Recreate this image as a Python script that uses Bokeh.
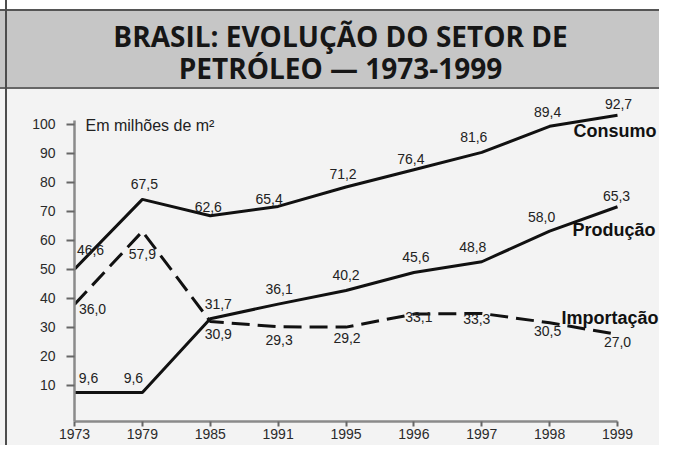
from bokeh.plotting import figure
from bokeh.models import Range1d, LinearAxis, FixedTicker, ColumnDataSource
from bokeh.embed import file_html
from bokeh.resources import INLINE
from bokeh.core.properties import value

# ---------------- data ----------------
years = ["1973", "1979", "1985", "1991", "1995", "1996", "1997", "1998", "1999"]
consumo = [46.6, 67.5, 62.6, 65.4, 71.2, 76.4, 81.6, 89.4, 92.7]
producao = [9.6, 9.6, 31.7, 36.1, 40.2, 45.6, 48.8, 58.0, 65.3]
importacao = [36.0, 57.9, 30.9, 29.3, 29.2, 33.1, 33.3, 30.5, 27.0]
y_tick_labels = [10, 20, 30, 40, 50, 60, 70, 80, 90, 100]
series_names = ["Consumo", "Produção", "Importação"]
title_lines = ["BRASIL: EVOLUÇÃO DO SETOR DE", "PETRÓLEO — 1973-1999"]
unit_label = "Em milhões de m²"

# ---------------- styles ----------------
W, H = 659, 445
LEFT, BOTTOM = 74, 24
PX_X, PX_Y = 67.875, 3.335          # pixels per data unit
Y0 = 0.9                            # data value at the frame's bottom edge
FONT = "Liberation Sans"
INK = "#111111"
# the reference's y-axis labels sit slightly off the data scale; calibration
AX_OFF, AX_SCALE = 3.0, 0.87

def fmt(v):
    return f"{v:.1f}".replace(".", ",")

x_end = (W - LEFT) / PX_X
y_end = Y0 + (H - BOTTOM) / PX_Y

p = figure(width=W, height=H, title=None,
           x_range=Range1d(0, x_end), y_range=Range1d(Y0, y_end),
           x_axis_type=None, y_axis_type=None, toolbar_location=None,
           output_backend="svg", min_border_left=LEFT, min_border_right=0,
           min_border_top=0, min_border_bottom=BOTTOM)
p.background_fill_alpha = 0
p.border_fill_alpha = 0
p.outline_line_color = None
p.styles = {
    "background": (
        "linear-gradient(to right, rgba(0,0,0,0) 5px, #4d4d4d 5px, #4d4d4d 7px, rgba(0,0,0,0) 7px), "
        "linear-gradient(to bottom, #ffffff 9px, #555555 9px, #555555 11px, #c6c6c6 11px, "
        "#c6c6c6 87px, #666666 87px, #666666 89px, #f3f3f3 89px)"
    )
}

# title (inside the frame, above the data)
p.text(x=[(340 - LEFT) / PX_X] * 2, y=[116.6, 107.0], text=title_lines,
       text_font=value("Open Sans"), text_font_style="bold",
       text_font_size="28px", text_color="#161616",
       text_align="center", text_baseline="middle")

xi = list(range(len(years)))

xaxis = LinearAxis(ticker=FixedTicker(ticks=xi),
                   major_label_overrides={i: y for i, y in zip(xi, years)},
                   bounds=(0, len(years) - 1))
ypos = [round(AX_OFF + AX_SCALE * v, 3) for v in y_tick_labels]
yaxis = LinearAxis(ticker=FixedTicker(ticks=ypos),
                   major_label_overrides={pp: str(v) for pp, v in zip(ypos, y_tick_labels)},
                   bounds=(Y0, ypos[-1] + 1.2))
for ax in (xaxis, yaxis):
    ax.axis_line_color = "#8a8a8a"
    ax.axis_line_width = 2.5
    ax.major_tick_line_color = "#666666"
    ax.major_tick_line_width = 2
    ax.major_tick_in = 0
    ax.minor_tick_out = 0
    ax.minor_tick_in = 0
    ax.major_label_text_font = FONT
    ax.major_label_text_font_size = "14px"
    ax.major_label_text_color = "#2a2a2a"
xaxis.major_tick_out = 5
xaxis.major_label_standoff = 2
yaxis.major_tick_out = 8
yaxis.major_label_standoff = 11
p.add_layout(xaxis, "below")
p.add_layout(yaxis, "left")

series = [consumo, producao, importacao]
dashes = ["solid", "solid", "18 8"]
label_offsets = [
    [(16, -19), (2, -15), (-2, -9), (-9, -7), (-3, -13), (-3, -11), (-8, -15), (-2, -14), (1, -11)],
    [(14, -14), (-9, -14), (8, -15), (1, -15), (0, -15), (2, -15), (-9, -15), (-8, -14), (-1, -11)],
    [(18, 5), (0, 23), (8, 13), (1, 13), (1, 11), (5, 3), (-5, 6), (-2, 8), (0, 8)],
]
name_offsets = [(-44, 16), (-45, 23), (-56, -16)]

for vals, dash, offs, name, noff in zip(series, dashes, label_offsets, series_names, name_offsets):
    p.line(xi, vals, line_color=INK, line_width=3, line_dash=dash)
    src = ColumnDataSource(dict(x=xi, y=vals, t=[fmt(v) for v in vals],
                                xo=[o[0] for o in offs], yo=[o[1] for o in offs]))
    p.text(x="x", y="y", text="t", x_offset="xo", y_offset="yo", source=src,
           text_font=value(FONT), text_font_size="14px", text_color="#222222",
           text_align="center", text_baseline="middle")
    p.text(x=[xi[-1]], y=[vals[-1]], text=[name], x_offset=noff[0], y_offset=noff[1],
           text_font=value(FONT), text_font_style="bold", text_font_size="18px",
           text_color=INK, text_align="left", text_baseline="middle")

p.text(x=[0], y=[ypos[-1]], text=[unit_label], x_offset=11, y_offset=1,
       text_font=value(FONT), text_font_size="16px", text_color="#222222",
       text_align="left", text_baseline="middle")

open("out.html", "w").write(file_html(p, INLINE))
